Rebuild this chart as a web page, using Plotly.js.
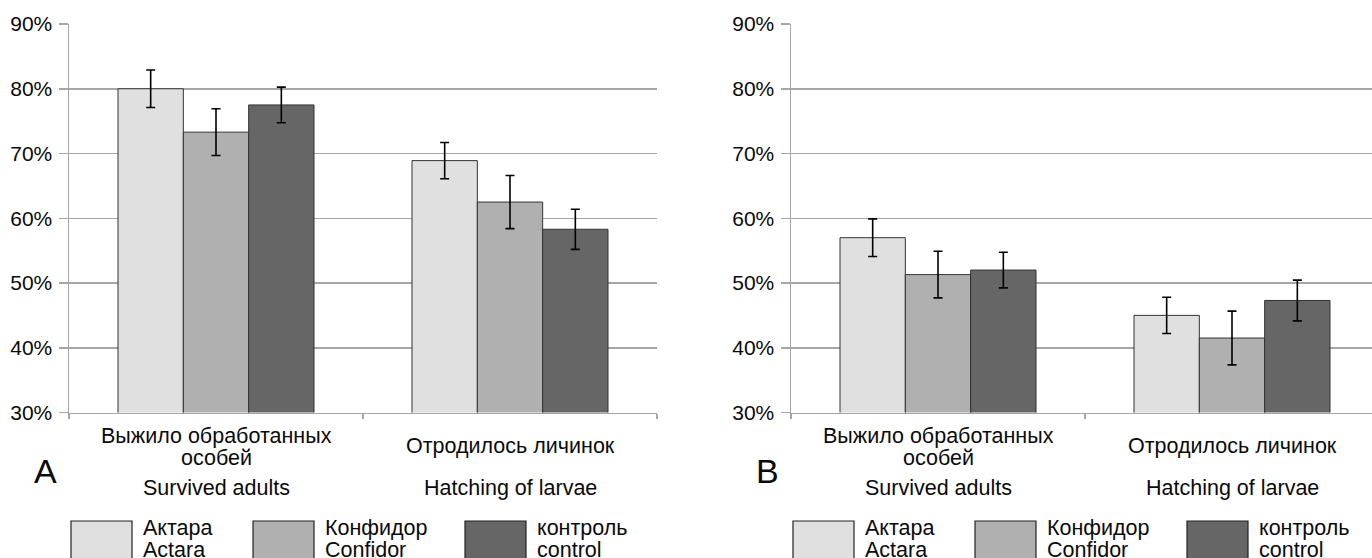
<!DOCTYPE html>
<html>
<head>
<meta charset="utf-8">
<script src="https://cdn.plot.ly/plotly-3.0.1.min.js"></script>
<style>html,body{margin:0;padding:0;background:#fff;overflow:hidden}#chart{width:1372px;height:558px}</style>
</head>
<body>
<div id="chart"></div>
<script>
// ---- data ----
const categories = ['Выжило обработанных особей', 'Отродилось личинок'];
const catLabelsRu = [['Выжило обработанных', 'особей'], ['Отродилось личинок']];
const catLabelsEn = ['Survived adults', 'Hatching of larvae'];
const seriesRu = ['Актара', 'Конфидор', 'контроль'];
const seriesEn = ['Actara', 'Confidor', 'control'];
const panelLetters = ['A', 'B'];
const yTicks = [30, 40, 50, 60, 70, 80, 90];
const yTickText = ['30%', '40%', '50%', '60%', '70%', '80%', '90%'];

// panel A (%)
const A_actara = [80.0, 68.9];
const A_confidor = [73.3, 62.5];
const A_control = [77.5, 58.3];
const A_actaraErr = [2.9, 2.8];
const A_confidorErr = [3.6, 4.1];
const A_controlErr = [2.75, 3.1];
// panel B (%)
const B_actara = [57.0, 45.0];
const B_confidor = [51.3, 41.5];
const B_control = [52.0, 47.3];
const B_actaraErr = [2.9, 2.8];
const B_confidorErr = [3.6, 4.15];
const B_controlErr = [2.75, 3.15];

// ---- styles ----
const colors = ['#e0e0e0', '#b0b0b0', '#666666'];
const W = 1372, H = 558;
const FONT = 'Liberation Sans, Arial, sans-serif';
const TXT = '#0a0a0a';
const FS = 21.5;
const px = v => v / W;
const py = v => 1 - v / H;

const panels = [
  {vals: [A_actara, A_confidor, A_control], errs: [A_actaraErr, A_confidorErr, A_controlErr], xa: 'x', ya: 'y'},
  {vals: [B_actara, B_confidor, B_control], errs: [B_actaraErr, B_confidorErr, B_controlErr], xa: 'x2', ya: 'y2'}
];

const traces = [];
panels.forEach((p, pi) => {
  for (let s = 0; s < 3; s++) {
    traces.push({
      type: 'bar', x: categories, y: p.vals[s], name: seriesRu[s],
      xaxis: p.xa, yaxis: p.ya, showlegend: false,
      marker: {color: colors[s], line: {color: '#333333', width: 1}},
      error_y: {type: 'data', array: p.errs[s], visible: true, color: '#000000', thickness: 1.6, width: 4.5},
      hoverinfo: 'skip'
    });
  }
});

const xBase = {
  type: 'category', showgrid: false, showline: true, linecolor: '#a6a6a6', linewidth: 1.5,
  ticks: 'outside', tickson: 'boundaries', ticklen: 5, tickcolor: '#a6a6a6', tickwidth: 1.5,
  showticklabels: false, fixedrange: true, zeroline: false
};
const yBase = {
  range: [30, 90], tickmode: 'array', tickvals: yTicks, ticktext: yTickText, showgrid: true, gridcolor: '#a6a6a6', gridwidth: 1.5,
  showline: true, linecolor: '#a6a6a6', linewidth: 1.5, ticks: 'outside', ticklen: 9, tickcolor: '#a6a6a6', tickwidth: 1.5,
  ticklabelstandoff: 2, tickfont: {family: FONT, size: 21, color: TXT}, zeroline: false, fixedrange: true
};

const yTop = py(24), yBot = py(412.5);
const panelLeft = [69, 791];
const fullWidth = 588;

const layout = {
  width: W, height: H, margin: {l: 0, r: 0, t: 0, b: 0},
  paper_bgcolor: '#ffffff', plot_bgcolor: '#ffffff',
  barmode: 'group', bargap: 1/3, bargroupgap: 0,
  font: {family: FONT, color: TXT},
  xaxis: Object.assign({}, xBase, {domain: [px(69), px(69 + fullWidth)], range: [-0.5, 1.5], anchor: 'y'}),
  yaxis: Object.assign({}, yBase, {domain: [yBot, yTop], anchor: 'x'}),
  xaxis2: Object.assign({}, xBase, {domain: [px(791), 1], range: [-0.5, -0.5 + 2 * (W - 791) / fullWidth], anchor: 'y2'}),
  yaxis2: Object.assign({}, yBase, {domain: [yBot, yTop], anchor: 'x2'}),
  annotations: [], shapes: []
};

const ann = (o) => Object.assign({showarrow: false, font: {family: FONT, size: FS, color: TXT}, xanchor: 'center', yanchor: 'middle', borderpad: 0}, o);

panels.forEach((p, pi) => {
  const off = panelLeft[pi] - panelLeft[0];
  // category labels
  categories.forEach((c, ci) => {
    const ru = catLabelsRu[ci];
    if (ru.length === 2) {
      layout.annotations.push(ann({xref: p.xa, yref: 'paper', x: c, y: py(435.5), text: ru[0]}));
      layout.annotations.push(ann({xref: p.xa, yref: 'paper', x: c, y: py(457.5), text: ru[1]}));
    } else {
      layout.annotations.push(ann({xref: p.xa, yref: 'paper', x: c, y: py(445.5), text: ru[0]}));
    }
    layout.annotations.push(ann({xref: p.xa, yref: 'paper', x: c, y: py(488), text: catLabelsEn[ci]}));
  });
  // panel letter
  layout.annotations.push(ann({xref: 'paper', yref: 'paper', x: px(45.5 + off), y: py(471), text: panelLetters[pi], font: {family: FONT, size: 34, color: TXT}}));
  // legend
  const boxL = [71, 253, 465];
  for (let s = 0; s < 3; s++) {
    const x0 = boxL[s] + off;
    layout.shapes.push({type: 'rect', xref: 'paper', yref: 'paper', x0: px(x0), x1: px(x0 + 61), y0: py(521), y1: py(575),
      fillcolor: colors[s], line: {color: '#222222', width: 1.2}});
    layout.annotations.push(ann({xref: 'paper', yref: 'paper', x: px(x0 + 71), xanchor: 'left', y: py(527.5), text: seriesRu[s]}));
    layout.annotations.push(ann({xref: 'paper', yref: 'paper', x: px(x0 + 71), xanchor: 'left', y: py(550), text: seriesEn[s]}));
  }
});

Plotly.newPlot('chart', traces, layout, {displayModeBar: false, staticPlot: true});
</script>
</body>
</html>
